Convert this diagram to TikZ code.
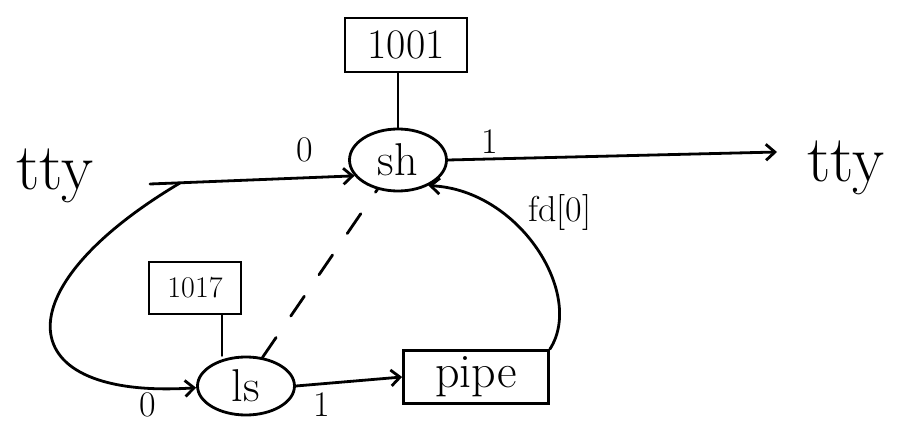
\documentclass[tikz,border=0pt]{standalone}
\usetikzlibrary{arrows.meta,shapes.geometric}
\begin{document}
\begin{tikzpicture}[x=1pt,y=-1pt,
  wire/.style={line width=2.8pt, line cap=round},
  arr/.style={wire, -{Straight Barb[length=9pt,width=16pt,line width=2.8pt]}},
  proc/.style={ellipse, draw, line width=2.8pt, minimum width=97pt,
               minimum height=62pt, inner sep=0pt,
               font=\fontsize{46}{50}\selectfont},
  numbox/.style={draw, line width=2pt, inner sep=0pt},
  big/.style={font=\fontsize{66}{72}\selectfont},
  lbl/.style={font=\fontsize{36}{40}\selectfont}]
\useasboundingbox (0,0) rectangle (898,433);

% processes
\node[proc] (sh) at (398,160) {sh};
\node[proc, minimum height=58pt] (ls) at (246,386) {ls};

% process ids and the pipe
\node[numbox, minimum width=122pt, minimum height=54pt,
      font=\fontsize{42}{46}\selectfont] (pid1) at (406,45) {1001};
\node[numbox, minimum width=92pt, minimum height=51pt,
      font=\fontsize{30}{34}\selectfont] (pid2) at (195,288) {1017};
\node[draw, line width=2.8pt, minimum width=145pt, minimum height=53pt,
      inner sep=0pt, font=\fontsize{48}{52}\selectfont] (pipe) at (476,377) {pipe};

% terminals
\node[big] (ttyL) at (55,176) {tty};
\node[big] (ttyR) at (846,168) {tty};

\coordinate (in) at (150,184);
\coordinate (split) at (180,183);
\coordinate (out) at (777,152);

% links
\draw[wire] (pid1.south -| sh) -- (sh.north);
\draw[wire] ([xshift=27pt]pid2.south) -- ([xshift=-24pt]ls.north);
\draw[arr] (in) -- (sh.200);
\draw[arr] (sh.east) -- (out);
\draw[arr] (split) .. controls (0,290) and (10,400) .. (ls.182);
\draw[arr] (ls.east) -- (pipe.west);
\draw[arr] (pipe.north east) .. controls (585,295) and (520,190) .. (sh.-40);
\draw[wire, dash pattern=on 24pt off 26pt] (ls.60) -- (sh.235);

% fd labels
\node[lbl] at (305,150) {0};
\node[lbl] at (490,142) {1};
\node[lbl] at (148,405) {0};
\node[lbl] at (322,405) {1};
\node[lbl] at (560,213) {fd[0]};
\end{tikzpicture}
\end{document}
